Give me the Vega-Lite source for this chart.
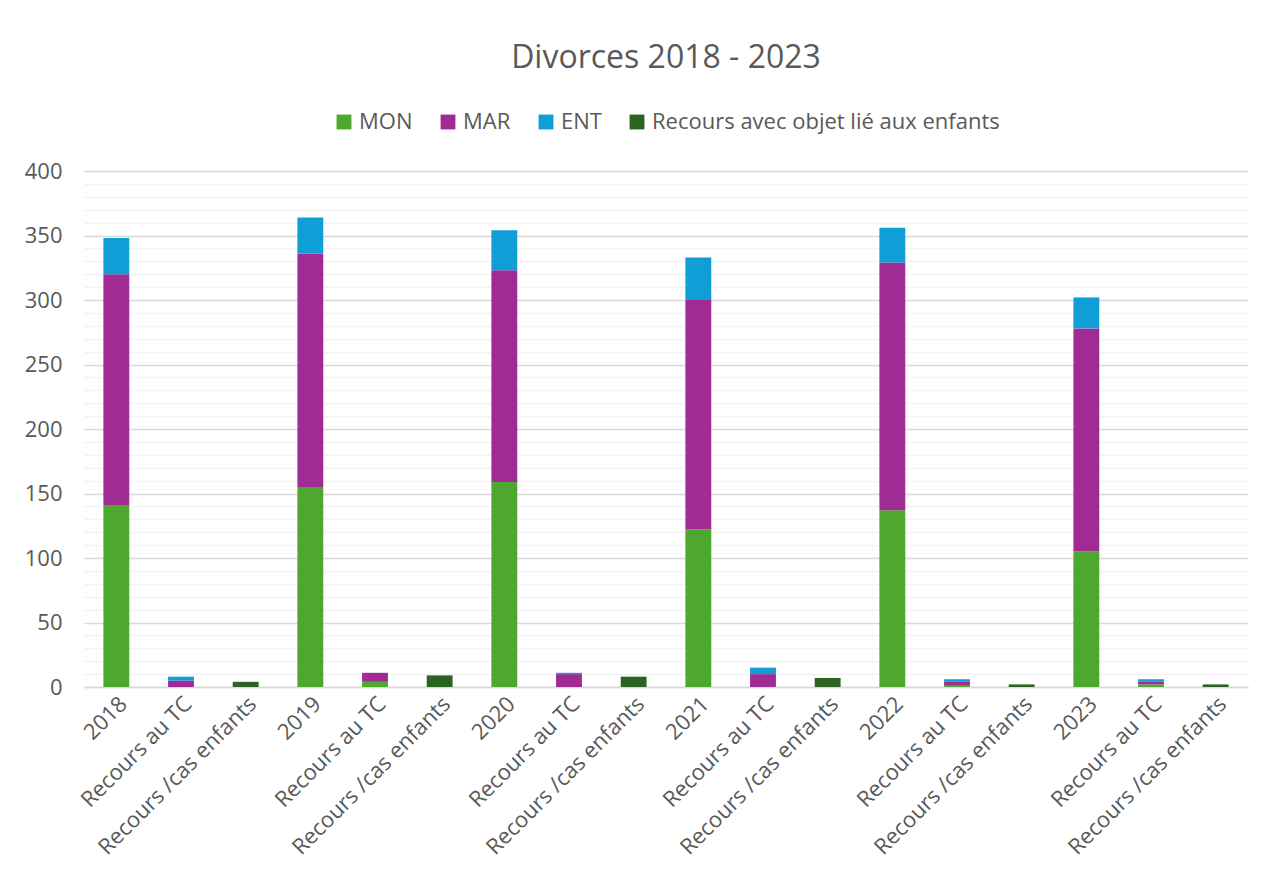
{
  "$schema": "https://vega.github.io/schema/vega-lite/v6.json",
  "autosize": {"type": "fit", "contains": "padding"},
  "width": 1266,
  "height": 887,
  "padding": {"left": 24, "right": 18, "top": 42, "bottom": 28},
  "background": "white",
  "title": {"text": "Divorces 2018 - 2023", "fontSize": 32, "font": "Open Sans", "fontWeight": "normal", "color": "#595959", "offset": 36},
  "data": {"values": [
    {"key": "2018", "s": "MON", "v": 141},
    {"key": "2018", "s": "MAR", "v": 179},
    {"key": "2018", "s": "ENT", "v": 28},
    {"key": "Recours au TC 2018", "s": "MAR", "v": 5},
    {"key": "Recours au TC 2018", "s": "ENT", "v": 3},
    {"key": "Recours /cas enfants 2018", "s": "Recours avec objet lié aux enfants", "v": 4},
    {"key": "2019", "s": "MON", "v": 155},
    {"key": "2019", "s": "MAR", "v": 181},
    {"key": "2019", "s": "ENT", "v": 28},
    {"key": "Recours au TC 2019", "s": "MON", "v": 4},
    {"key": "Recours au TC 2019", "s": "MAR", "v": 7},
    {"key": "Recours /cas enfants 2019", "s": "Recours avec objet lié aux enfants", "v": 9},
    {"key": "2020", "s": "MON", "v": 159},
    {"key": "2020", "s": "MAR", "v": 164},
    {"key": "2020", "s": "ENT", "v": 31},
    {"key": "Recours au TC 2020", "s": "MAR", "v": 10},
    {"key": "Recours au TC 2020", "s": "ENT", "v": 1},
    {"key": "Recours /cas enfants 2020", "s": "Recours avec objet lié aux enfants", "v": 8},
    {"key": "2021", "s": "MON", "v": 122},
    {"key": "2021", "s": "MAR", "v": 178},
    {"key": "2021", "s": "ENT", "v": 33},
    {"key": "Recours au TC 2021", "s": "MAR", "v": 10},
    {"key": "Recours au TC 2021", "s": "ENT", "v": 5},
    {"key": "Recours /cas enfants 2021", "s": "Recours avec objet lié aux enfants", "v": 7},
    {"key": "2022", "s": "MON", "v": 137},
    {"key": "2022", "s": "MAR", "v": 192},
    {"key": "2022", "s": "ENT", "v": 27},
    {"key": "Recours au TC 2022", "s": "MON", "v": 1},
    {"key": "Recours au TC 2022", "s": "MAR", "v": 3},
    {"key": "Recours au TC 2022", "s": "ENT", "v": 2},
    {"key": "Recours /cas enfants 2022", "s": "Recours avec objet lié aux enfants", "v": 2},
    {"key": "2023", "s": "MON", "v": 105},
    {"key": "2023", "s": "MAR", "v": 173},
    {"key": "2023", "s": "ENT", "v": 24},
    {"key": "Recours au TC 2023", "s": "MON", "v": 2},
    {"key": "Recours au TC 2023", "s": "MAR", "v": 2},
    {"key": "Recours au TC 2023", "s": "ENT", "v": 2},
    {"key": "Recours /cas enfants 2023", "s": "Recours avec objet lié aux enfants", "v": 2}
  ]},
  "mark": {"type": "bar"},
  "encoding": {
    "x": {
      "field": "key", "type": "nominal", "sort": null, "title": null,
      "scale": {"paddingInner": 0.6, "paddingOuter": 0.3},
      "axis": {
        "labelExpr": "length(datum.value) > 4 ? substring(datum.value, 0, length(datum.value) - 5) : datum.value",
        "labelAngle": -45, "labelFontSize": 22, "labelFont": "Open Sans", "labelColor": "#595959", "labelLimit": 400,
        "ticks": false, "domainColor": "#d9d9d9", "domainWidth": 1.5, "labelPadding": 6
      }
    },
    "y": {
      "aggregate": "sum", "field": "v", "type": "quantitative", "title": null,
      "scale": {"domain": [0, 400], "nice": false},
      "axis": {
        "values": [0,10,20,30,40,50,60,70,80,90,100,110,120,130,140,150,160,170,180,190,200,210,220,230,240,250,260,270,280,290,300,310,320,330,340,350,360,370,380,390,400],
        "labelExpr": "datum.value % 50 === 0 ? datum.value : ''",
        "gridColor": {"condition": {"test": "datum.value % 50 === 0", "value": "#d9d9d9"}, "value": "#f2f2f2"},
        "gridWidth": 1.5,
        "domain": false, "ticks": false, "labelFontSize": 22, "labelFont": "Open Sans", "labelColor": "#595959", "labelPadding": 22
      }
    },
    "color": {
      "field": "s", "type": "nominal",
      "sort": ["MON", "MAR", "ENT", "Recours avec objet lié aux enfants"],
      "scale": {"domain": ["MON", "MAR", "ENT", "Recours avec objet lié aux enfants"], "range": ["#4ea72e", "#a02b93", "#0f9ed5", "#2b6320"]},
      "legend": {"orient": "top", "direction": "horizontal", "title": null, "symbolType": "square", "symbolSize": 220, "symbolStrokeWidth": 0, "labelFontSize": 22, "labelFont": "Open Sans", "labelColor": "#595959", "labelLimit": 500, "columnPadding": 24, "offset": 38}
    },
    "order": {"field": "s", "sort": "descending"}
  },
  "config": {"view": {"stroke": null}, "legend": {"layout": {"top": {"anchor": "middle"}}}}
}
